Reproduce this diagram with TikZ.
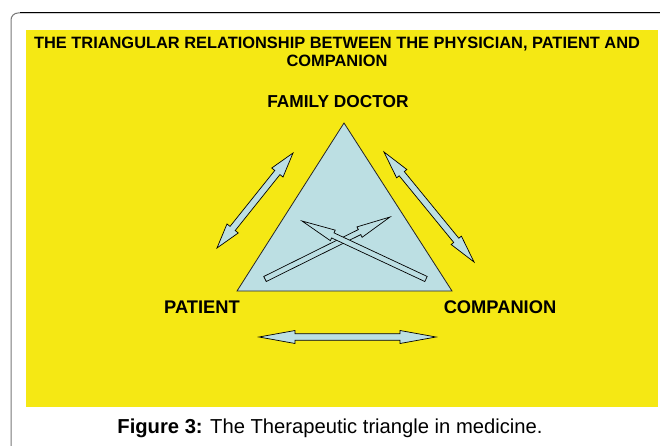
\documentclass[tikz,border=0pt]{standalone}
\usepackage{fontspec}
\setmainfont{Liberation Sans}
\usetikzlibrary{calc}
\definecolor{bgyellow}{RGB}{245,232,20}
\definecolor{triblue}{RGB}{188,223,227}
\definecolor{framegray}{RGB}{120,120,120}
\tikzset{
  blockarrow/.style={fill=triblue, draw=black, line width=0.7pt, line join=miter},
  vertexname/.style={font=\fontsize{18.3}{21}\selectfont\bfseries, inner sep=0pt},
}
% double-headed block arrow between two tips
% #1,#2 tips; #3 head length; #4 head half-width; #5 shaft half-width
\newcommand\twoheadblock[5]{%
  \coordinate (#1-#2-a) at ($(#1)!#3!(#2)$);
  \coordinate (#1-#2-b) at ($(#2)!#3!(#1)$);
  \draw[blockarrow] (#1) -- ($(#1-#2-a)!#4!90:(#2)$) -- ($(#1-#2-a)!#5!90:(#2)$)
    -- ($(#1-#2-b)!#5!-90:(#1)$) -- ($(#1-#2-b)!#4!-90:(#1)$) -- (#2)
    -- ($(#1-#2-b)!#4!90:(#1)$) -- ($(#1-#2-b)!#5!90:(#1)$)
    -- ($(#1-#2-a)!#5!-90:(#2)$) -- ($(#1-#2-a)!#4!-90:(#2)$) -- cycle;}
% single-headed block arrow with a square tail: #1 tail, #2 tip
\newcommand\oneheadblock[5]{%
  \coordinate (#1-#2-h) at ($(#2)!#3!(#1)$);
  \draw[blockarrow] ($(#1)!#5!90:(#2)$) -- ($(#1-#2-h)!#5!90:(#2)$)
    -- ($(#1-#2-h)!#4!90:(#2)$) -- (#2) -- ($(#1-#2-h)!#4!-90:(#2)$)
    -- ($(#1-#2-h)!#5!-90:(#2)$) -- ($(#1)!#5!-90:(#2)$) -- cycle;}
\begin{document}
\begin{tikzpicture}[x=1pt, y=-1pt]
  \useasboundingbox (0,0) rectangle (660,446);
  \fill[white] (0,0) rectangle (660,446);
  % outer frame
  \draw[framegray, line width=1pt, rounded corners=7pt] (11,446) -- (11,13) -- (660,13);
  \draw[black, line width=1pt] (20,13) -- (660,13);
  % yellow panel
  \fill[bgyellow] (26,30) rectangle (658,407);
  % heading
  \node[font=\fontsize{16.4}{18}\selectfont\bfseries, align=center, inner sep=0pt] (title) at (337,52)
    {THE TRIANGULAR RELATIONSHIP BETWEEN THE PHYSICIAN, PATIENT AND\\COMPANION};
  % triangle
  \coordinate (apex) at (344,123);
  \coordinate (left) at (237,291);
  \coordinate (right) at (452,291);
  \draw[fill=triblue, draw=black!85, line width=0.8pt] (apex) -- (left) -- (right) -- cycle;
  % vertex names
  \node[vertexname, font=\fontsize{17.3}{20}\selectfont\bfseries] (doctor) at (338,102) {FAMILY DOCTOR};
  \node[vertexname] (patient) at (202,307) {PATIENT};
  \node[vertexname] (companion) at (500,307) {COMPANION};
  % side arrows
  \coordinate (ls) at (217,248); \coordinate (le) at (293,153);
  \coordinate (rs) at (384,152); \coordinate (re) at (474,262);
  \coordinate (bs) at (259,337); \coordinate (be) at (436,337);
  \twoheadblock{ls}{le}{25pt}{7.2pt}{3.3pt}
  \twoheadblock{rs}{re}{28pt}{6.6pt}{3.3pt}
  \twoheadblock{bs}{be}{36pt}{6.5pt}{3.3pt}
  % crossing arrows inside the triangle
  \coordinate (at) at (265,279); \coordinate (ap) at (390,217);
  \coordinate (bt) at (426,279); \coordinate (bp) at (302,221);
  \oneheadblock{at}{ap}{34pt}{5.8pt}{2.8pt}
  \oneheadblock{bt}{bp}{34pt}{5.8pt}{2.8pt}
  % caption
  \node[font=\fontsize{20.2}{24}\selectfont, inner sep=0pt] (caption) at (330,428)
    {\textbf{Figure 3:} The Therapeutic triangle in medicine.};
\end{tikzpicture}
\end{document}
